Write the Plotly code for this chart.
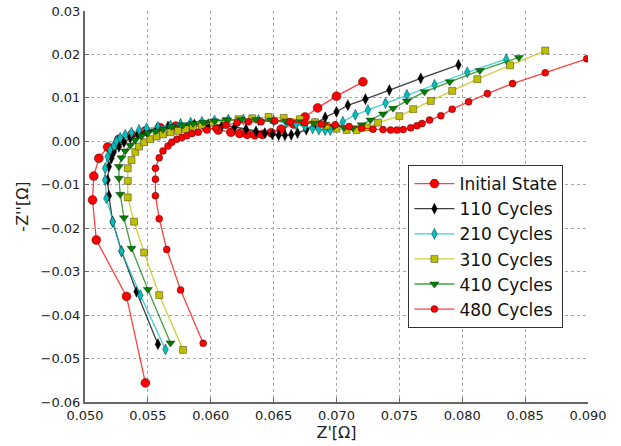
import plotly.graph_objects as go

# Nyquist data: real part Z' and negative imaginary part -Z'' (ohm)
initial_x = [0.0548, 0.0533, 0.0509, 0.0506, 0.0507, 0.0511, 0.0518, 0.0527, 0.0537, 0.0548,
             0.0560, 0.0572, 0.0584, 0.0596, 0.0606, 0.0616, 0.0623, 0.0629, 0.0635, 0.0641,
             0.0648, 0.0656, 0.0666, 0.0675, 0.0685, 0.0700, 0.0721]
initial_y = [-0.0556, -0.0357, -0.0227, -0.0135, -0.0080, -0.0039, -0.0013, 0.0005, 0.0015, 0.0024,
             0.0031, 0.0035, 0.0036, 0.0033, 0.0026, 0.0021, 0.0018, 0.0016, 0.0015, 0.0016,
             0.0020, 0.0028, 0.0040, 0.0056, 0.0077, 0.0104, 0.0137]

c110_x = [0.0558, 0.0541, 0.0529, 0.0522, 0.0519, 0.0518, 0.0519, 0.0521, 0.0523, 0.0527,
          0.0531, 0.0536, 0.0542, 0.0549, 0.0557, 0.0566, 0.0576, 0.0587, 0.0598, 0.0609,
          0.0619, 0.0628, 0.0636, 0.0643, 0.0649, 0.0654, 0.0659, 0.0664, 0.0669, 0.0676,
          0.0683, 0.0691, 0.0700, 0.0709, 0.0723, 0.0742, 0.0767, 0.0797]
c110_y = [-0.0467, -0.0346, -0.0253, -0.0185, -0.0125, -0.0089, -0.0058, -0.0039, -0.0024, -0.0012,
          -0.0002, 0.0008, 0.0016, 0.0023, 0.0029, 0.0034, 0.0037, 0.0039, 0.0039, 0.0037,
          0.0033, 0.0028, 0.0023, 0.0019, 0.0016, 0.0014, 0.0014, 0.0015, 0.0019, 0.0027,
          0.0040, 0.0055, 0.0068, 0.0083, 0.0097, 0.0118, 0.0145, 0.0176]

c210_x = [0.0564, 0.0544, 0.0529, 0.0522, 0.0517, 0.0516, 0.0516, 0.0518, 0.0520, 0.0523,
          0.0525, 0.0528, 0.0532, 0.0537, 0.0543, 0.0549, 0.0558, 0.0568, 0.0576, 0.0584,
          0.0593, 0.0603, 0.0614, 0.0626, 0.0638, 0.0650, 0.0660, 0.0668, 0.0675, 0.0681,
          0.0686, 0.0691, 0.0695, 0.0699, 0.0705, 0.0715, 0.0725, 0.0739, 0.0756, 0.0778,
          0.0804, 0.0835]
c210_y = [-0.0479, -0.0354, -0.0253, -0.0185, -0.0131, -0.0089, -0.0062, -0.0035, -0.0020, -0.0010,
          0.0000, 0.0008, 0.0015, 0.0020, 0.0026, 0.0030, 0.0033, 0.0036, 0.0040, 0.0043,
          0.0045, 0.0048, 0.0050, 0.0050, 0.0049, 0.0047, 0.0043, 0.0039, 0.0034, 0.0030,
          0.0027, 0.0026, 0.0026, 0.0034, 0.0045, 0.0061, 0.0072, 0.0088, 0.0107, 0.0130,
          0.0159, 0.0189]

c310_x = [0.0578, 0.0559, 0.0547, 0.0539, 0.0534, 0.0534, 0.0534, 0.0537, 0.0540, 0.0543,
          0.0547, 0.0552, 0.0557, 0.0562, 0.0568, 0.0574, 0.0580, 0.0586, 0.0593, 0.0602,
          0.0612, 0.0622, 0.0633, 0.0646, 0.0658, 0.0671, 0.0683, 0.0692, 0.0700, 0.0708,
          0.0716, 0.0724, 0.0733, 0.0750, 0.0761, 0.0775, 0.0792, 0.0812, 0.0838, 0.0866]
c310_y = [-0.0480, -0.0354, -0.0256, -0.0185, -0.0129, -0.0091, -0.0062, -0.0043, -0.0024, -0.0012,
          -0.0002, 0.0005, 0.0011, 0.0016, 0.0021, 0.0024, 0.0028, 0.0034, 0.0038, 0.0043,
          0.0047, 0.0051, 0.0053, 0.0056, 0.0054, 0.0051, 0.0044, 0.0036, 0.0029, 0.0026,
          0.0026, 0.0032, 0.0043, 0.0058, 0.0074, 0.0093, 0.0116, 0.0143, 0.0175, 0.0209]

c410_x = [0.0568, 0.0550, 0.0537, 0.0531, 0.0528, 0.0527, 0.0527, 0.0529, 0.0532, 0.0536,
          0.0540, 0.0545, 0.0550, 0.0556, 0.0562, 0.0569, 0.0578, 0.0586, 0.0594, 0.0603,
          0.0613, 0.0624, 0.0636, 0.0648, 0.0660, 0.0672, 0.0682, 0.0690, 0.0698, 0.0706,
          0.0713, 0.0720, 0.0727, 0.0737, 0.0745, 0.0756, 0.0770, 0.0790, 0.0814, 0.0845]
c410_y = [-0.0464, -0.0341, -0.0246, -0.0176, -0.0122, -0.0085, -0.0058, -0.0038, -0.0022, -0.0009,
          0.0003, 0.0012, 0.0019, 0.0024, 0.0028, 0.0034, 0.0038, 0.0041, 0.0044, 0.0047,
          0.0049, 0.0050, 0.0050, 0.0049, 0.0047, 0.0045, 0.0042, 0.0039, 0.0035, 0.0032,
          0.0031, 0.0038, 0.0049, 0.0063, 0.0076, 0.0093, 0.0114, 0.0137, 0.0163, 0.0193]

c480_x = [0.0594, 0.0576, 0.0565, 0.0559, 0.0556, 0.0556, 0.0556, 0.0559, 0.0562, 0.0566,
          0.0569, 0.0573, 0.0577, 0.0581, 0.0585, 0.0590, 0.0597, 0.0604, 0.0612, 0.0621,
          0.0630, 0.0640, 0.0651, 0.0663, 0.0675, 0.0688, 0.0699, 0.0710, 0.0720, 0.0729,
          0.0737, 0.0743, 0.0748, 0.0753, 0.0759, 0.0764, 0.0768, 0.0774, 0.0783, 0.0792,
          0.0805, 0.0820, 0.0840, 0.0866, 0.0899]
c480_y = [-0.0465, -0.0342, -0.0249, -0.0178, -0.0125, -0.0087, -0.0062, -0.0038, -0.0022, -0.0011,
          -0.0002, 0.0005, 0.0009, 0.0013, 0.0018, 0.0021, 0.0026, 0.0030, 0.0037, 0.0043,
          0.0045, 0.0045, 0.0047, 0.0045, 0.0043, 0.0040, 0.0038, 0.0034, 0.0030, 0.0028,
          0.0027, 0.0026, 0.0026, 0.0027, 0.0031, 0.0036, 0.0041, 0.0049, 0.0059, 0.0074,
          0.0091, 0.0110, 0.0133, 0.0158, 0.0190]

x_ticks = [0.050, 0.055, 0.060, 0.065, 0.070, 0.075, 0.080, 0.085, 0.090]
y_ticks = [-0.06, -0.05, -0.04, -0.03, -0.02, -0.01, 0.00, 0.01, 0.02, 0.03]

series = [
    ("Initial State", initial_x, initial_y, "circle", "#ff0000", "rgba(255,0,0,0.75)", 9),
    ("110 Cycles", c110_x, c110_y, "diamond-tall", "#000000", "rgba(0,0,0,0.75)", 8),
    ("210 Cycles", c210_x, c210_y, "diamond-tall", "#00bfbf", "rgba(0,191,191,0.75)", 8),
    ("310 Cycles", c310_x, c310_y, "square", "#bfbf00", "rgba(191,191,0,0.75)", 7),
    ("410 Cycles", c410_x, c410_y, "triangle-down", "#008000", "rgba(0,128,0,0.75)", 8),
    ("480 Cycles", c480_x, c480_y, "circle", "#ff0000", "rgba(255,0,0,0.75)", 7),
]

fig = go.Figure()
for name, xs, ys, sym, mcol, lcol, size in series:
    fig.add_trace(go.Scatter(
        x=xs, y=ys, name=name, mode="lines+markers",
        line=dict(color=lcol, width=1.3),
        marker=dict(symbol=sym, size=size, color=mcol,
                    line=dict(color="rgba(0,0,0,0.6)", width=0.6)),
    ))

font_family = "DejaVu Sans"
fig.update_layout(
    width=621, height=446,
    margin=dict(l=85, r=33, t=11, b=44),
    paper_bgcolor="white", plot_bgcolor="white",
    font=dict(family=font_family, size=13, color="#222"),
    showlegend=True,
    legend=dict(
        x=0.643, y=0.606, xanchor="left", yanchor="top",
        bgcolor="white", bordercolor="#333", borderwidth=1,
        font=dict(size=17, color="#111"), itemwidth=40,
        tracegroupgap=0,
    ),
)
fig.update_xaxes(
    range=[0.050, 0.090], tickvals=x_ticks,
    ticktext=[f"{v:.3f}" for v in x_ticks],
    showgrid=True, gridcolor="#aaa", griddash="dot", gridwidth=1,
    showline=True, linecolor="#666", linewidth=2, mirror=False,
    ticks="inside", ticklen=4, tickcolor="#666",
    zeroline=False, automargin=False,
    title=dict(text="Z'[Ω]", font=dict(size=16), standoff=4),
)
fig.update_yaxes(
    range=[-0.06, 0.03], tickvals=y_ticks,
    ticktext=[(f"{v:.2f}" if v >= 0 else "\u2212" + f"{abs(v):.2f}") for v in y_ticks],
    showgrid=True, gridcolor="#aaa", griddash="dot", gridwidth=1,
    showline=True, linecolor="#666", linewidth=2, mirror=False,
    ticks="inside", ticklen=4, tickcolor="#666",
    zeroline=False, automargin=False,
    title=dict(text="-Z''[Ω]", font=dict(size=16), standoff=8),
)

fig.write_html("out.html")
